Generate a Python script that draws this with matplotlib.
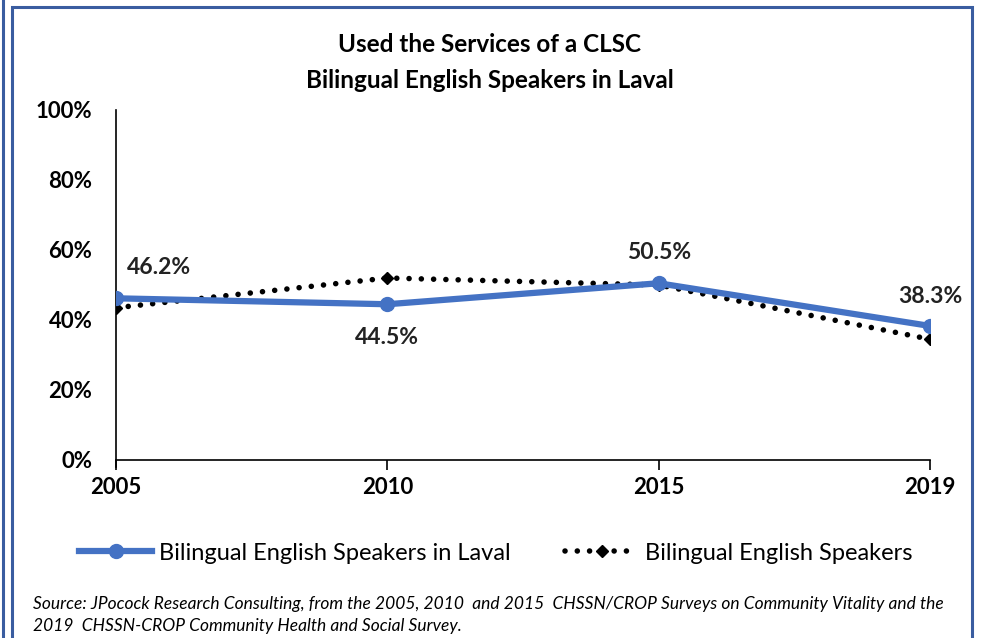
import matplotlib
matplotlib.use('Agg')
import matplotlib.pyplot as plt
from matplotlib.patches import Rectangle
from matplotlib.lines import Line2D

# chart data
years = ['2005', '2010', '2015', '2019']
laval = [46.2, 44.5, 50.5, 38.3]
all_bilingual = [43.5, 52.0, 50.0, 34.5]
laval_labels = ['46.2%', '44.5%', '50.5%', '38.3%']
y_ticks = [0, 20, 40, 60, 80, 100]

plt.rcParams['font.family'] = ['Lato', 'DejaVu Sans']

W, H = 982, 638
fig = plt.figure(figsize=(W / 100, H / 100), dpi=100)

# frame lines like the screenshot border
border = '#3A5DA0'
fig.add_artist(Rectangle((12 / W, -0.1), (972 - 12) / W, 1.1 - 7 / H,
                         transform=fig.transFigure, fill=False,
                         edgecolor=border, linewidth=2.2))
fig.add_artist(Line2D([2.5 / W, 2.5 / W], [0, 1], transform=fig.transFigure,
                      color=border, linewidth=2.2))

ax = fig.add_axes([116 / W, 1 - 460 / H, (930 - 116) / W, (460 - 110) / H])
x = list(range(len(years)))

ax.plot(x, all_bilingual, color='black', linestyle=(0, (0.01, 2.2)),
        linewidth=4, dash_capstyle='round', marker='D', markersize=6.5,
        label='Bilingual English Speakers', zorder=2)
ax.plot(x, laval, color='#4472C4', linewidth=4.5, marker='o', markersize=10,
        label='Bilingual English Speakers in Laval', zorder=3)

offsets = [(31, 22), (0, -24), (0, 22), (0, 21)]
for xi, yi, lab, off in zip(x, laval, laval_labels, offsets):
    ax.annotate(lab, (xi, yi), xytext=off, textcoords='offset points',
                ha='center', va='center', fontsize=16.5, fontweight='bold',
                color='#222222')

ax.set_xlim(0, len(years) - 1)
ax.set_ylim(0, 100)
ax.set_yticks(y_ticks)
ax.set_yticklabels([f'{v}%' for v in y_ticks], fontsize=16, fontweight='bold')
ax.set_xticks(x)
ax.set_xticklabels(years, fontsize=16, fontweight='bold')
ax.tick_params(axis='y', length=0, pad=17)
ax.tick_params(axis='x', length=7, width=1.2, direction='out', pad=5)
for s in ['top', 'right']:
    ax.spines[s].set_visible(False)
ax.spines['left'].set_linewidth(1.2)
ax.spines['bottom'].set_linewidth(1.2)
ax.spines['left'].set_bounds(-2, 100)

fig.text(490 / W, 1 - 45 / H, 'Used the Services of a CLSC', ha='center',
         va='center', fontsize=17.5, fontweight='bold')
fig.text(490 / W, 1 - 80 / H, 'Bilingual English Speakers in Laval',
         ha='center', va='center', fontsize=17.5, fontweight='bold')

handles, labels = ax.get_legend_handles_labels()
fig.legend(handles[::-1], labels[::-1], loc='center', ncol=2,
           bbox_to_anchor=(496 / W, 1 - 553 / H), frameon=False,
           fontsize=17, handlelength=3.1, columnspacing=2.3, handletextpad=0.3)

fig.text(33 / W, 1 - 604 / H,
         'Source: JPocock Research Consulting, from the 2005, 2010  and 2015  '
         'CHSSN/CROP Surveys on Community Vitality and the',
         ha='left', va='center', fontsize=12.5, style='italic')
fig.text(33 / W, 1 - 626 / H,
         '2019  CHSSN-CROP Community Health and Social Survey.',
         ha='left', va='center', fontsize=12.5, style='italic')

fig.savefig('out.png', dpi=100)
